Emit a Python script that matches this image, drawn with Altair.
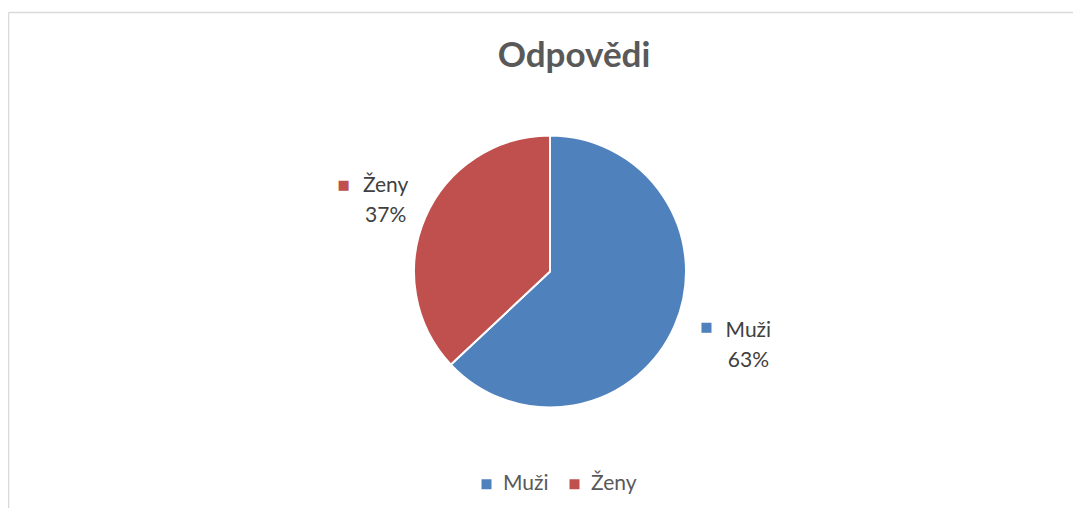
import altair as alt
import pandas as pd

categories = ["Muži", "Ženy"]
values = [63, 37]
order = [0, 1]
colors = ["#4F81BD", "#C0504D"]

df = pd.DataFrame({"kategorie": categories, "hodnota": values, "poradi": order})
frame_df = pd.DataFrame({"k": [0]})

color_scale = alt.Scale(domain=categories, range=colors)

pie = alt.Chart(df).mark_arc(radius=136, stroke="white", strokeWidth=2).encode(
    theta=alt.Theta("hodnota:Q", stack=True),
    color=alt.Color(
        "kategorie:N",
        scale=color_scale,
        sort=categories,
        legend=alt.Legend(
            title=None, orient="none", legendX=446, legendY=337,
            direction="horizontal",
            symbolType="square", symbolSize=100, symbolStrokeWidth=0,
            labelFont="Lato", labelFontSize=21, labelColor="#595959",
            columnPadding=15, labelOffset=6,
        ),
    ),
    order=alt.Order("poradi:Q"),
)

lab = alt.Chart(df).transform_window(
    cum="sum(hodnota)", sort=[alt.SortField("poradi")], frame=[None, 0]
).transform_calculate(
    mid="datum.cum - datum.hodnota / 2",
    label="datum.kategorie + '\\n' + datum.hodnota + '%'",
    sq="'■'",
)


def label_layers(cat, dx, dy, sdx, sdy):
    sub = lab.transform_filter(alt.datum.kategorie == cat)
    txt = sub.mark_text(
        radius=190, dx=dx, dy=dy, font="Lato", fontSize=21, color="#404040",
        lineBreak="\n", lineHeight=30, align="center", baseline="middle",
    ).encode(theta=alt.Theta("mid:Q", stack=False), text="label:N")
    sq = sub.mark_text(
        radius=190, dx=sdx, dy=sdy, font="DejaVu Sans", fontSize=13,
        align="center", baseline="middle",
    ).encode(
        theta=alt.Theta("mid:Q", stack=False),
        text="sq:N",
        color=alt.Color("kategorie:N", scale=color_scale, legend=None),
    )
    return [txt, sq]


border_top = alt.Chart(frame_df).mark_rule(color="#d9d9d9", strokeWidth=1.5).encode(
    x=alt.value(-21.5), x2=alt.value(1045), y=alt.value(-124)
)
border_left = alt.Chart(frame_df).mark_rule(color="#d9d9d9", strokeWidth=1.5).encode(
    x=alt.value(-21.5), y=alt.value(-124), y2=alt.value(372)
)

chart = alt.layer(
    border_top, border_left, pie,
    *label_layers("Muži", 24, -16, -18, -19.5),
    *label_layers("Ženy", 10, -10, -32, -11),
).properties(
    width=1040,
    height=270,
    autosize="none",
    padding={"left": 22, "top": 128.5, "right": 3, "bottom": 101.5},
    title=alt.TitleParams(
        "Odpovědi", font="Lato", fontSize=35, fontWeight="bold",
        color="#595959", anchor="middle", dx=24, offset=-62,
    ),
).configure_view(stroke=None)

chart.save("out.html", embed_options={"renderer": "svg", "actions": False})
